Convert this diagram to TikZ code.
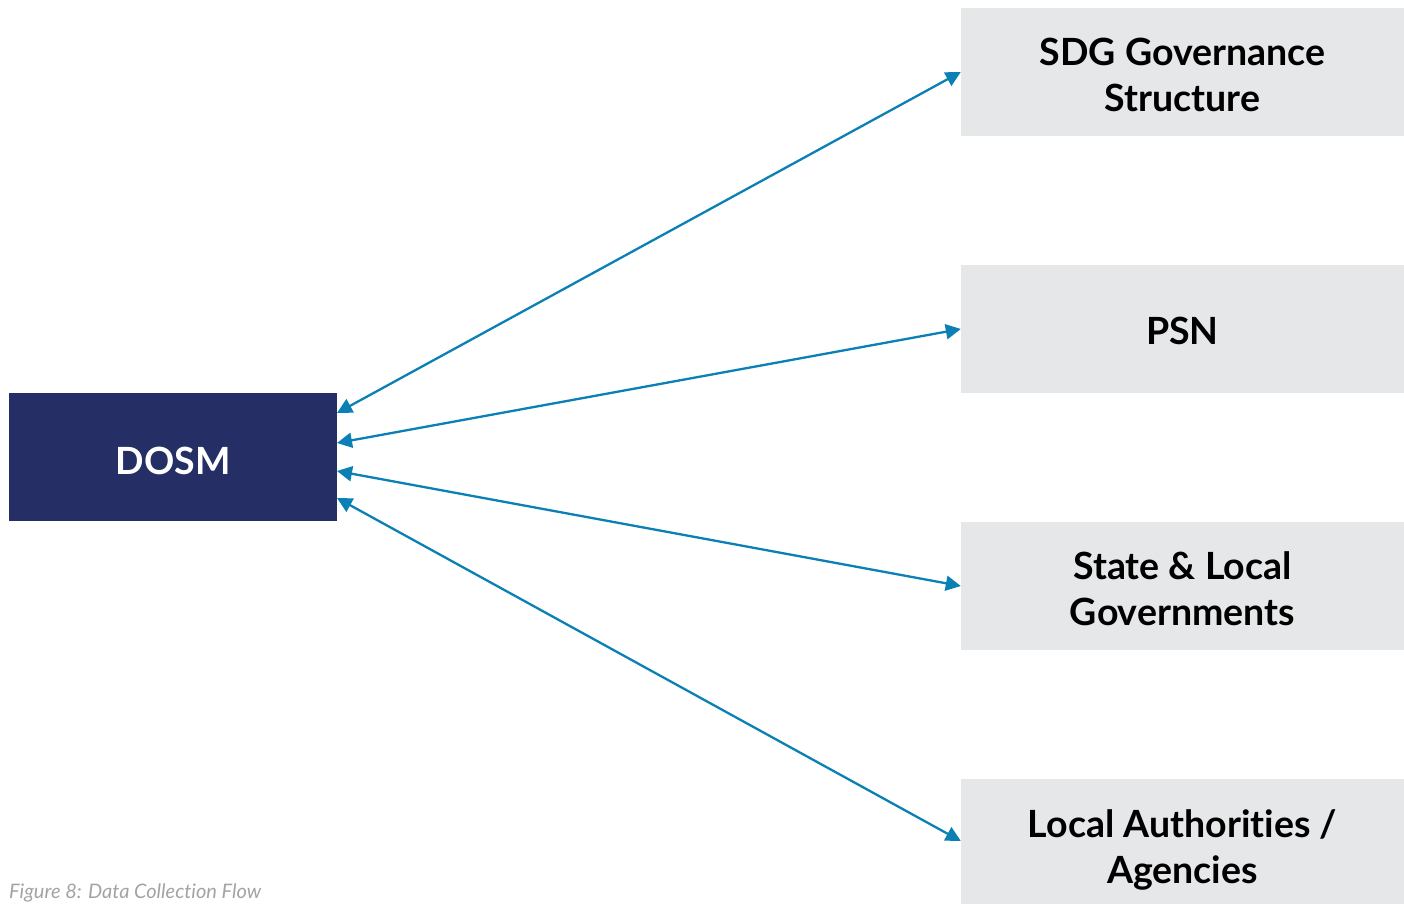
\documentclass[tikz,border=0pt]{standalone}
\usepackage{fontspec}
\setmainfont{Lato}[Ligatures={NoCommon},RawFeature={-liga}]
\usetikzlibrary{arrows.meta}
\definecolor{dosmblue}{HTML}{252F66}
\definecolor{arrowblue}{HTML}{0A80B4}
\definecolor{boxgray}{HTML}{E6E7E9}
\definecolor{capgray}{HTML}{A3A3A3}
\begin{document}
\begin{tikzpicture}[x=1pt,y=1pt,
  dosmbox/.style={fill=dosmblue,minimum width=328pt,minimum height=128pt,inner sep=0pt},
  graybox/.style={fill=boxgray,minimum width=443pt,minimum height=128pt,inner sep=0pt},
  boxtext/.style={inner sep=0pt,align=center,font=\fontsize{37.5}{46}\selectfont\bfseries},
  link/.style={draw=arrowblue,line width=2.3pt,{Triangle[length=15pt,width=15pt]}-{Triangle[length=15pt,width=15pt]}}
]
\useasboundingbox (0,0) rectangle (1404,903);
\node[dosmbox] (dosm) at (173,446) {};
\node[boxtext,text=white] (dosmt) at ([yshift=-4pt]dosm.center) {DOSM};
\node[graybox] (sdg) at (1182.5,831) {};
\node[boxtext] (sdgt) at ([yshift=-3pt]sdg.center) {SDG Governance\\Structure};
\node[graybox] (psn) at (1182.5,574) {};
\node[boxtext] (psnt) at ([yshift=-2pt]psn.center) {PSN};
\node[graybox] (state) at (1182.5,317) {};
\node[boxtext] (statet) at ([yshift=-3pt]state.center) {State \& Local\\Governments};
\begin{scope}
\clip (0,0) rectangle (1404,903);
\node[graybox] (local) at (1182.5,60) {};
\end{scope}
\node[boxtext] (localt) at ([yshift=-7pt]local.center) {Local Authorities /\\Agencies};
\node[anchor=base west,text=capgray,inner sep=0pt,font=\fontsize{20}{20}\selectfont\itshape] (cap) at (9,5) {Figure 8: Data Collection Flow};
\coordinate (d1) at (337,490);
\coordinate (d2) at (337,460);
\coordinate (d3) at (337,432);
\coordinate (d4) at (337,405);
\draw[link] (d1) -- (sdg.west);
\draw[link] (d2) -- (psn.west);
\draw[link] (d3) -- (state.west);
\draw[link] (d4) -- ([yshift=2pt]local.west);
\end{tikzpicture}
\end{document}
